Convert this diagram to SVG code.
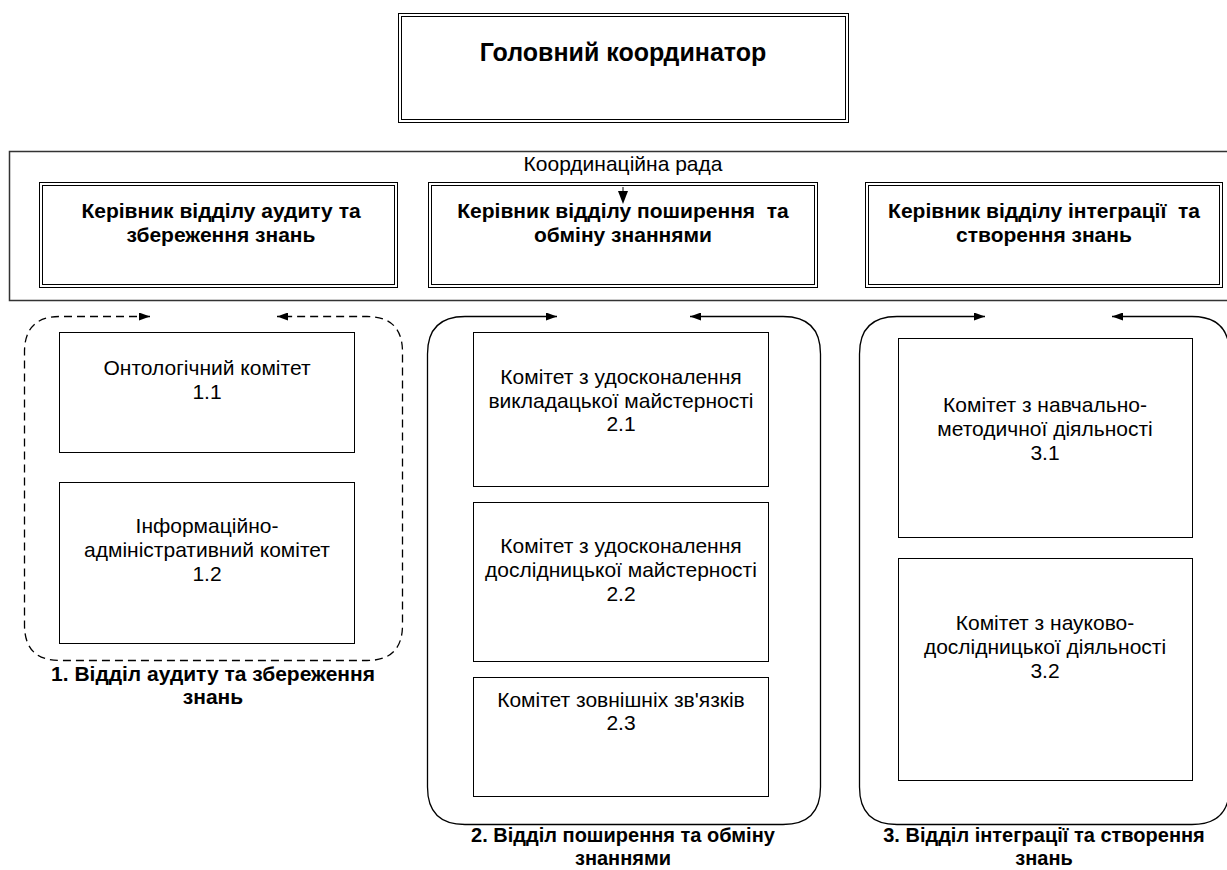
<svg xmlns="http://www.w3.org/2000/svg" width="1227" height="870" viewBox="0 0 1227 870">
<style>
text{font-family:"Liberation Sans",Arial,sans-serif;fill:#000;text-anchor:middle;white-space:pre}
.b{font-weight:bold;font-size:21px}
.bl{font-weight:bold;font-size:20px}
.t{font-weight:bold;font-size:25px}
.r{font-size:21px}
.box{fill:#fff;stroke:#000;stroke-width:1}
.dbl{fill:none;stroke:#000;stroke-width:1}
.grp{fill:none;stroke:#000;stroke-width:1.3}
.dash{stroke-dasharray:8,5}
</style>
<defs>
<marker id="ah" markerWidth="11" markerHeight="8" refX="11" refY="4" orient="auto-start-reverse" markerUnits="userSpaceOnUse">
<path d="M0,0 L11,4 L0,8 Z" fill="#000"/>
</marker>
</defs>
<rect width="1227" height="870" fill="#fff"/>

<g id="head">
<rect class="box" x="398.5" y="13.5" width="450" height="109"/>
<rect class="dbl" x="401.5" y="16.5" width="444" height="103"/>
<text class="t" x="623" y="61">Головний координатор</text>
</g>

<g id="council">
<rect x="9.5" y="151.5" width="1230" height="149" fill="none" stroke="#333" stroke-width="1.5"/>
<text class="r" x="623" y="171">Координаційна рада</text>
</g>

<g id="mgr1">
<rect class="box" x="39.5" y="182.5" width="358" height="105"/>
<rect class="dbl" x="42.5" y="185.5" width="352" height="99"/>
<text class="b" x="221" y="218">Керівник відділу аудиту та</text>
<text class="b" x="221" y="242">збереження знань</text>
</g>

<g id="mgr2">
<rect class="box" x="428.5" y="182.5" width="389" height="105"/>
<rect class="dbl" x="431.5" y="185.5" width="383" height="99"/>
<text class="b" x="623" y="218">Керівник відділу поширення  та</text>
<text class="b" x="623" y="242">обміну знаннями</text>
</g>

<g id="mgr3">
<rect class="box" x="865.5" y="182.5" width="357" height="105"/>
<rect class="dbl" x="868.5" y="185.5" width="351" height="99"/>
<text class="b" x="1044" y="218">Керівник відділу інтеграції  та</text>
<text class="b" x="1044" y="242">створення знань</text>
</g>

<g id="connectors">
<line x1="623" y1="187" x2="623" y2="192" stroke="#000" stroke-width="1"/>
<path d="M618,191 L628,191 L623,204 Z" fill="#000"/>
<path class="grp dash" d="M150,316.5 L60,316.5 Q24.5,316.5 24.5,352 L24.5,625 Q24.5,660.5 60,660.5 L367,660.5 Q402.5,660.5 402.5,625 L402.5,352 Q402.5,316.5 367,316.5 L277,316.5" marker-start="url(#ah)" marker-end="url(#ah)"/>
<path class="grp" d="M557,316.5 L465,316.5 Q427.5,316.5 427.5,354 L427.5,787 Q427.5,824.5 465,824.5 L783,824.5 Q820.5,824.5 820.5,787 L820.5,354 Q820.5,316.5 783,316.5 L690,316.5" marker-start="url(#ah)" marker-end="url(#ah)"/>
<path class="grp" d="M985,316.5 L897,316.5 Q859.5,316.5 859.5,354 L859.5,787 Q859.5,824.5 897,824.5 L1192,824.5 Q1229.5,824.5 1229.5,787 L1229.5,354 Q1229.5,316.5 1192,316.5 L1112,316.5" marker-start="url(#ah)" marker-end="url(#ah)"/>
</g>

<g id="c11">
<rect class="box" x="59.5" y="332.5" width="295" height="120"/>
<text class="r" x="207" y="375">Онтологічний комітет</text>
<text class="r" x="207" y="399">1.1</text>
</g>
<g id="c12">
<rect class="box" x="59.5" y="482.5" width="295" height="161"/>
<text class="r" x="207" y="533">Інформаційно-</text>
<text class="r" x="207" y="557">адміністративний комітет</text>
<text class="r" x="207" y="581">1.2</text>
</g>
<g id="c21">
<rect class="box" x="473.5" y="332.5" width="295" height="154"/>
<text class="r" x="621" y="384">Комітет з удосконалення</text>
<text class="r" x="621" y="408">викладацької майстерності</text>
<text class="r" x="621" y="431">2.1</text>
</g>
<g id="c22">
<rect class="box" x="473.5" y="502.5" width="295" height="159"/>
<text class="r" x="621" y="553">Комітет з удосконалення</text>
<text class="r" x="621" y="577">дослідницької майстерності</text>
<text class="r" x="621" y="601">2.2</text>
</g>
<g id="c23">
<rect class="box" x="473.5" y="677.5" width="295" height="119"/>
<text class="r" x="621" y="707">Комітет зовнішніх зв'язків</text>
<text class="r" x="621" y="730">2.3</text>
</g>
<g id="c31">
<rect class="box" x="898.5" y="338.5" width="294" height="199"/>
<text class="r" x="1045" y="412">Комітет з навчально-</text>
<text class="r" x="1045" y="436">методичної діяльності</text>
<text class="r" x="1045" y="460">3.1</text>
</g>
<g id="c32">
<rect class="box" x="898.5" y="558.5" width="294" height="222"/>
<text class="r" x="1045" y="630">Комітет з науково-</text>
<text class="r" x="1045" y="654">дослідницької діяльності</text>
<text class="r" x="1045" y="678">3.2</text>
</g>

<g id="label1">
<text class="b" x="213" y="681">1. Відділ аудиту та збереження</text>
<text class="b" x="213" y="704">знань</text>
</g>
<g id="label2">
<text class="bl" x="623" y="842">2. Відділ поширення та обміну</text>
<text class="bl" x="623" y="865">знаннями</text>
</g>
<g id="label3">
<text class="bl" x="1044" y="842">3. Відділ інтеграції та створення</text>
<text class="bl" x="1044" y="865">знань</text>
</g>
</svg>
